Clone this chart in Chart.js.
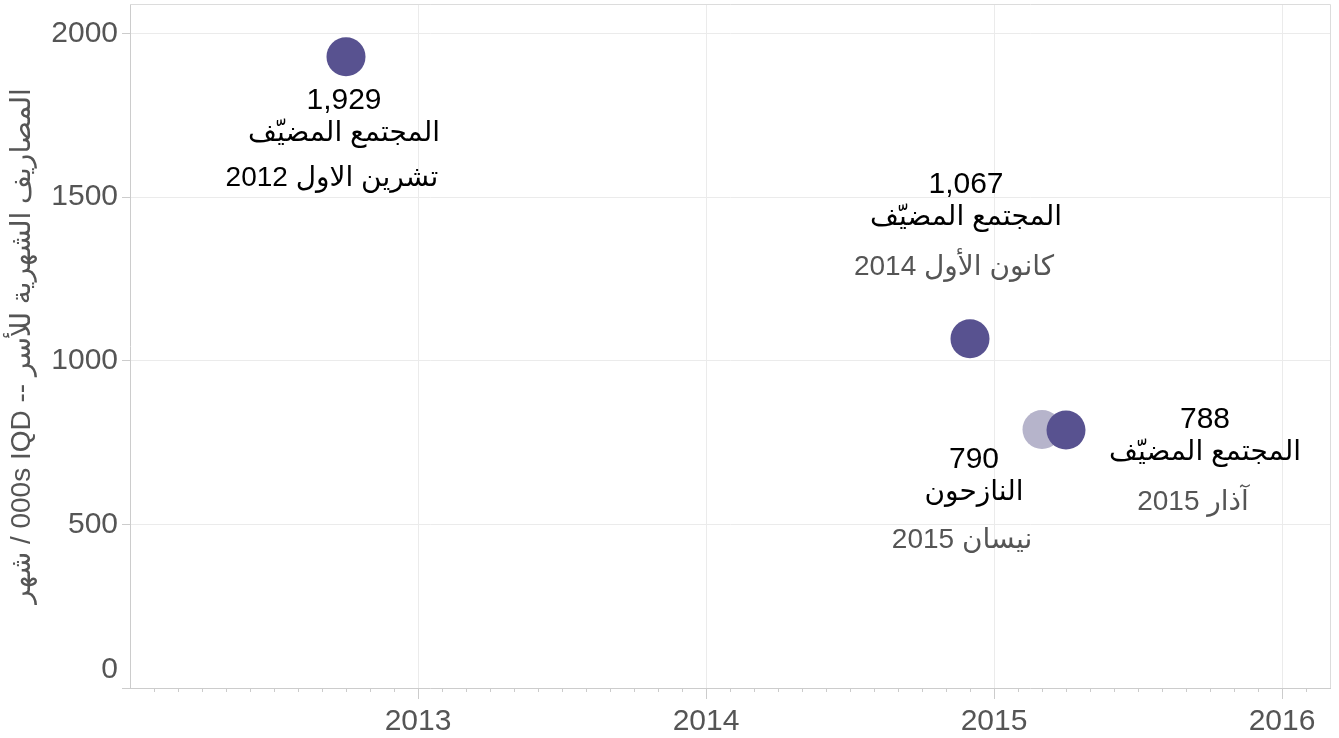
<!DOCTYPE html>
<html>
<head>
<meta charset="utf-8">
<script src="https://cdn.jsdelivr.net/npm/chart.js@4.4.1/dist/chart.umd.min.js"></script>
<style>
  html, body { margin: 0; padding: 0; background: #fff; }
  #wrap { width: 1339px; height: 738px; }
</style>
</head>
<body>
<div id="wrap"><canvas id="spendChart"></canvas></div>
<script>
// x axis counts months from January 2012
const startYear = 2012;
const lastMonth = 50;
const yearTicks = [2013, 2014, 2015, 2016];
const yTicks = [0, 500, 1000, 1500, 2000];

const groupNames = ['المجتمع المضيّف', 'النازحون'];

const hostDates = ['2012-10', '2014-12', '2015-04'];
const hostValues = [1929, 1067, 788];
const hostDateLabels = ['تشرين الاول 2012', 'كانون الأول 2014', 'آذار 2015'];

const displacedDates = ['2015-03'];
const displacedValues = [790];
const displacedDateLabels = ['نيسان 2015'];

// LRM marks keep the latin part in reading order next to the arabic words
const yTitle = 'شهر /\u200E 000s IQD --\u200E المصاريف الشهرية للأسر';

const FONT = '"Liberation Sans", Arial, "DejaVu Sans", sans-serif';

// where each text block sits, relative to its dot
const labelPlace = [
  [ {dx: -2, dy: 52, gap: 45, dateColor: '#000'},
    {dx: -4, dy: -146, gap: 50, dateColor: '#555'},
    {dx: 139, dy: -2, gap: 50, dateColor: '#555'} ],
  [ {dx: -68, dy: 39, gap: 48, dateColor: '#555'} ]
];
const dateLabels = [hostDateLabels, displacedDateLabels];

function monthIndex(s) {
  const [y, m] = s.split('-').map(Number);
  return (y - startYear) * 12 + (m - 1);
}

function toPoints(dates, values) {
  return dates.map((d, i) => ({x: monthIndex(d), y: values[i]}));
}

const pointLabels = {
  id: 'pointLabels',
  afterDatasetsDraw(chart) {
    const ctx = chart.ctx;
    ctx.save();
    ctx.textAlign = 'center';
    ctx.textBaseline = 'alphabetic';
    chart.data.datasets.forEach((ds, i) => {
      const meta = chart.getDatasetMeta(i);
      meta.data.forEach((pt, j) => {
        const p = labelPlace[i][j];
        const x = pt.x + p.dx;
        let y = pt.y + p.dy;
        ctx.font = '30px ' + FONT;
        ctx.fillStyle = '#000';
        ctx.fillText(ds.data[j].y.toLocaleString('en-US'), x, y);
        y += 32;
        ctx.font = '28px ' + FONT;
        ctx.fillText(groupNames[i], x, y);
        y += p.gap;
        ctx.fillStyle = p.dateColor;
        ctx.fillText(dateLabels[i][j], x - 12, y);
      });
    });
    ctx.restore();
  }
};

const frameAndMinorTicks = {
  id: 'frameAndMinorTicks',
  beforeDatasetsDraw(chart) {
    const {ctx, chartArea: a} = chart;
    const xs = chart.scales.x;
    ctx.save();
    ctx.strokeStyle = '#dcdcdc';
    ctx.lineWidth = 1;
    ctx.beginPath();
    ctx.moveTo(a.left, a.top + 0.5);
    ctx.lineTo(a.right + 0.5, a.top + 0.5);
    ctx.lineTo(a.right + 0.5, a.bottom);
    ctx.stroke();
    ctx.strokeStyle = '#cccccc';
    ctx.beginPath();
    for (let m = 1; m < lastMonth; m++) {
      if (m % 12 === 0) continue;
      const px = Math.round(xs.getPixelForValue(m)) + 0.5;
      ctx.moveTo(px, a.bottom);
      ctx.lineTo(px, a.bottom + 4);
    }
    ctx.stroke();
    ctx.restore();
  }
};

new Chart(document.getElementById('spendChart'), {
  type: 'scatter',
  data: {
    datasets: [
      {
        label: groupNames[0],
        data: toPoints(hostDates, hostValues),
        backgroundColor: '#585290',
        borderWidth: 0,
        pointRadius: 19.5,
        pointHoverRadius: 19.5,
        order: 0
      },
      {
        label: groupNames[1],
        data: toPoints(displacedDates, displacedValues),
        backgroundColor: '#b6b4cb',
        borderWidth: 0,
        pointRadius: 19.5,
        pointHoverRadius: 19.5,
        order: 1
      }
    ]
  },
  options: {
    responsive: true,
    maintainAspectRatio: false,
    animation: false,
    layout: { autoPadding: false, padding: { top: 4, right: 9, left: 0, bottom: 0 } },
    plugins: {
      legend: { display: false },
      tooltip: { enabled: false }
    },
    scales: {
      x: {
        type: 'linear',
        min: 0,
        max: lastMonth,
        afterFit(scale) {
          scale.height = 50;
          scale.paddingLeft = 0;
          scale.paddingRight = 0;
        },
        ticks: {
          stepSize: 1,
          autoSkip: false,
          maxRotation: 0,
          padding: 5,
          color: '#555',
          font: { family: FONT, size: 30 },
          callback(v) {
            const yr = startYear + v / 12;
            return yearTicks.includes(yr) ? String(yr) : '';
          }
        },
        grid: {
          tickLength: 11,
          color(c) { return yearTicks.includes(startYear + c.tick.value / 12) ? '#ebebeb' : 'rgba(0,0,0,0)'; },
          tickColor(c) { return yearTicks.includes(startYear + c.tick.value / 12) ? '#cccccc' : 'rgba(0,0,0,0)'; }
        },
        border: { color: '#cccccc' }
      },
      y: {
        min: 0,
        max: 2090,
        afterFit(scale) {
          scale.width = 130;
          scale.paddingTop = 0;
          scale.paddingBottom = 0;
        },
        afterBuildTicks(scale) { scale.ticks = yTicks.map(v => ({value: v})); },
        ticks: {
          padding: 4,
          color: '#555',
          font: { family: FONT, size: 30 },
          // the zero label sits just above the axis line
          callback(v) { return v === 0 ? ['0', ''] : String(v); }
        },
        grid: {
          tickLength: 8,
          color(c) { return c.tick.value === 0 ? 'rgba(0,0,0,0)' : '#ebebeb'; },
          tickColor: '#cccccc'
        },
        border: { color: '#cccccc' },
        title: {
          display: true,
          text: yTitle,
          color: '#555',
          font: { family: FONT, size: 28 },
          padding: { top: 5, bottom: 0 }
        }
      }
    }
  },
  plugins: [frameAndMinorTicks, pointLabels]
});
</script>
</body>
</html>
